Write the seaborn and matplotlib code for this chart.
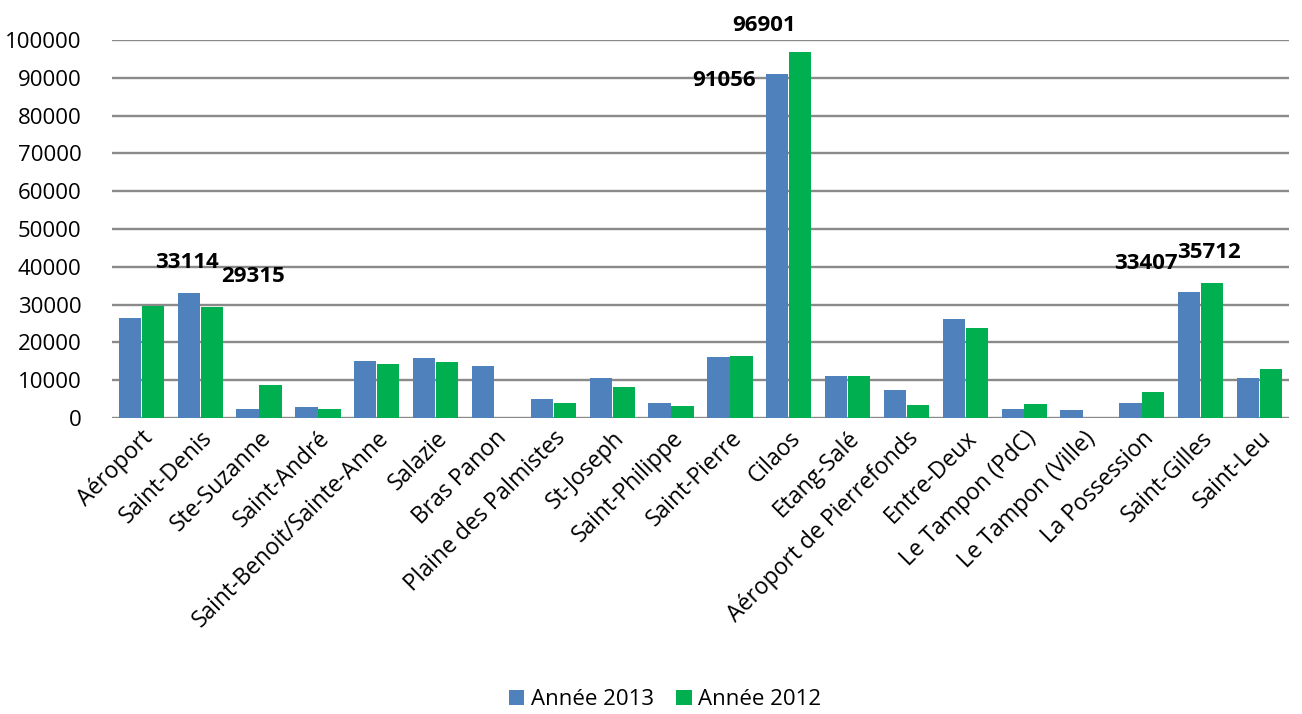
import matplotlib.pyplot as plt
import seaborn as sns
import pandas as pd

# values
stations = ["Aéroport", "Saint-Denis", "Ste-Suzanne", "Saint-André", "Saint-Benoit/Sainte-Anne",
            "Salazie", "Bras Panon", "Plaine des Palmistes", "St-Joseph", "Saint-Philippe",
            "Saint-Pierre", "Cilaos", "Etang-Salé", "Aéroport de Pierrefonds", "Entre-Deux",
            "Le Tampon (PdC)", "Le Tampon (Ville)", "La Possession", "Saint-Gilles", "Saint-Leu"]
annee_2013 = [26500, 33114, 2400, 3000, 15000, 15800, 13800, 5100, 10500, 3900,
              16100, 91056, 11200, 7500, 26200, 2400, 2100, 3900, 33407, 10700]
annee_2012 = [29500, 29315, 8800, 2400, 14300, 14800, 0, 3900, 8100, 3200,
              16500, 96901, 11000, 3500, 23900, 3700, 0, 6800, 35712, 12900]
series_names = ["Année 2013", "Année 2012"]
labelled = [("Saint-Denis", "Année 2013"), ("Saint-Denis", "Année 2012"),
            ("Cilaos", "Année 2013"), ("Cilaos", "Année 2012"),
            ("Saint-Gilles", "Année 2013"), ("Saint-Gilles", "Année 2012")]

df = pd.DataFrame({"station": stations * 2,
                   "serie": [series_names[0]] * len(stations) + [series_names[1]] * len(stations),
                   "valeur": annee_2013 + annee_2012})

sns.set_style("white")
plt.rcParams["font.family"] = ["Open Sans", "DejaVu Sans"]
plt.rcParams["text.color"] = "black"
plt.rcParams["xtick.color"] = "black"
plt.rcParams["ytick.color"] = "black"

fig = plt.figure(figsize=(13.02, 7.14), dpi=100)
ax = fig.add_axes([0.086, 0.4146, 0.904, 0.5294])

palette = {"Année 2013": "#4F81BD", "Année 2012": "#00B050"}
sns.barplot(data=df, x="station", y="valeur", hue="serie", palette=palette, saturation=1,
            width=0.78, gap=0.03, ax=ax, edgecolor="none", legend=True)

ax.set_ylim(0, 100000)
ax.set_xlim(-0.5, len(stations) - 0.5)
ax.set_yticks(range(0, 100001, 10000))
ax.set_yticklabels([str(v) for v in range(0, 100001, 10000)], fontsize=16)
ax.yaxis.grid(True, color="#8a8a8a", lw=1.7)
ax.set_axisbelow(True)
for s in ax.spines.values():
    s.set_visible(False)
ax.tick_params(axis="y", length=0, pad=22)
ax.tick_params(axis="x", length=0, pad=6)
ax.set_xlabel("")
ax.set_ylabel("")
plt.setp(ax.get_xticklabels(), rotation=45, ha="right", rotation_mode="anchor", fontsize=16.5)

# value labels placed like the original (offsets in points)
offsets = {("Saint-Denis", "Année 2013"): (-1, 22), ("Saint-Denis", "Année 2012"): (30, 22),
           ("Cilaos", "Année 2013"): (-38, -5), ("Cilaos", "Année 2012"): (-26, 19),
           ("Saint-Gilles", "Année 2013"): (-31, 20), ("Saint-Gilles", "Année 2012"): (-2, 22)}
for k, name in enumerate(series_names):
    cont = ax.containers[k]
    for i, bar in enumerate(cont):
        key = (stations[i], name)
        if key in labelled:
            v = df[(df.station == stations[i]) & (df.serie == name)].valeur.iloc[0]
            ax.annotate(str(v), (bar.get_x() + bar.get_width() / 2, bar.get_height()),
                        xytext=offsets[key], textcoords="offset points", ha="center", va="center",
                        fontsize=16, fontweight="bold", color="black", annotation_clip=False)

handles, labels = ax.get_legend_handles_labels()
ax.legend(handles, labels, loc="center", bbox_to_anchor=(0.47, -0.746), ncol=2, frameon=False,
          fontsize=16, handlelength=0.7, handleheight=0.7, handletextpad=0.3, columnspacing=1.0)

fig.savefig("out.png", dpi=100)
